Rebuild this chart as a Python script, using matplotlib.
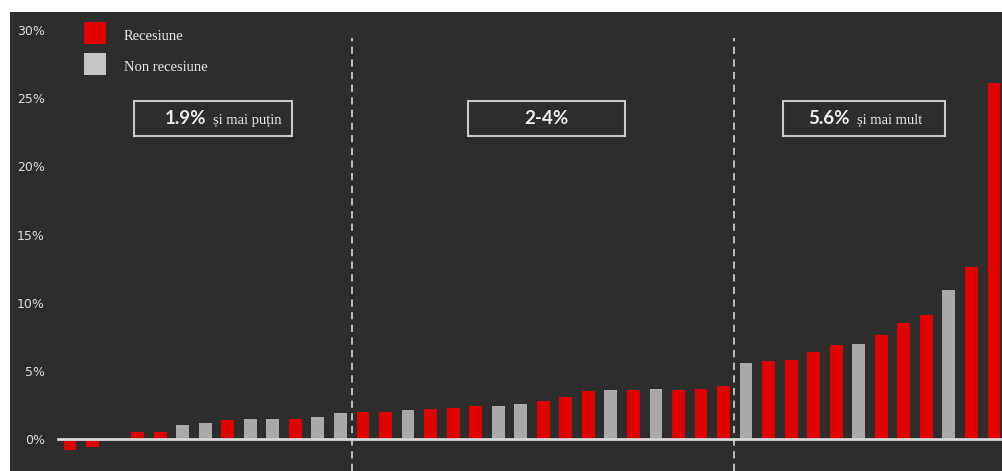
import matplotlib
matplotlib.use("Agg")
import matplotlib.pyplot as plt
from matplotlib.patches import Rectangle

# ---- data ----
values = [-0.8, -0.6, 0.0, 0.5, 0.5, 1.0, 1.2, 1.4, 1.5, 1.5, 1.5, 1.6, 1.9,
          2.0, 2.0, 2.1, 2.2, 2.3, 2.4, 2.4, 2.6, 2.8, 3.1, 3.5, 3.6, 3.6, 3.7,
          3.6, 3.7, 3.9,
          5.6, 5.7, 5.8, 6.4, 6.9, 7.0, 7.6, 8.5, 9.1, 10.9, 12.6, 26.1]
recession = ["R", "R", "R", "R", "R", "G", "G", "R", "G", "G", "R", "G", "G",
             "R", "R", "G", "R", "R", "R", "G", "G", "R", "R", "R", "G", "R", "G",
             "R", "R", "R",
             "G", "R", "R", "R", "R", "G", "R", "R", "R", "G", "R", "R"]
ytick_vals = [0, 5, 10, 15, 20, 25, 30]
ytick_labels = ["0%", "5%", "10%", "15%", "20%", "25%", "30%"]
legend_labels = ["Recesiune", "Non recesiune"]
box_bold = ["1.9%", "2-4%", "5.6%"]
box_rest = ["și mai puțin", "", "și mai mult"]

RED = "#e10000"
GRAY = "#a9a9a9"
BG = "#2d2d2d"
TXT = "#dcdcdc"

W, H = 1003, 471
fig = plt.figure(figsize=(W / 100, H / 100), dpi=100, facecolor="white")
ax = fig.add_axes([10 / W, 0, (W - 10) / W, (H - 12) / H])
ax.set_facecolor(BG)
for s in ax.spines.values():
    s.set_visible(False)

def px(xp, yp):
    """image pixel -> axes fraction"""
    return (xp - 10) / (W - 10), (H - yp) / (H - 12)

x = list(range(len(values)))
colors = [RED if c == "R" else GRAY for c in recession]
ax.bar(x, values, width=0.57, color=colors, zorder=2)

ax.set_xlim(-2.66, 41.4)
ax.set_ylim(-2.35, 31.33)
ax.set_xticks([])
ax.set_yticks(ytick_vals)
ax.set_yticklabels(ytick_labels)
ax.tick_params(axis="y", length=0, pad=-25, labelcolor=TXT, labelsize=9)

# zero line
ax.axhline(0, xmin=px(58, 0)[0], xmax=1, color="#d8d8d8", lw=2, zorder=3)

# dashed separators
ytop = px(0, 38)[1]
for xv in [12.5, 29.45]:
    ax.axvline(xv, ymin=0, ymax=ytop, color="#c8c8c8", lw=1.3,
               linestyle=(0, (4, 3)), zorder=1)

# legend
for i, (lab, col) in enumerate(zip(legend_labels, [RED, "#c4c4c4"])):
    y0 = 44 + 30.5 * i
    x0, yb = px(84, y0)
    w = 22 / (W - 10)
    h = 22 / (H - 12)
    ax.add_patch(Rectangle((x0, yb), w, h, transform=ax.transAxes,
                           facecolor=col, edgecolor="none", zorder=4))
    tx, ty = px(124, y0 - 7)
    ax.text(tx, ty, lab, transform=ax.transAxes, ha="left", va="center",
            fontsize=10.5, family="Liberation Serif", color="#e8e8e8")

# boxes
boxes = [(134, 292), (468, 625), (783, 945)]
split_x = [206, None, 850]
for (bx0, bx1), bold, rest, sx in zip(boxes, box_bold, box_rest, split_x):
    x0, y0 = px(bx0, 136)
    x1, y1 = px(bx1, 101)
    ax.add_patch(Rectangle((x0, y0), x1 - x0, y1 - y0, transform=ax.transAxes,
                           facecolor="none", edgecolor="#c8c8c8", lw=1.5,
                           zorder=4))
    _, yc = px(0, 119)
    if rest:
        ax.text(px(sx, 0)[0], yc, bold, transform=ax.transAxes, ha="right",
                va="center", fontsize=13.5, fontweight="bold", family="Lato",
                color="#f0f0f0")
        ax.text(px(sx + 7, 0)[0], yc - 0.002, rest, transform=ax.transAxes,
                ha="left", va="center", fontsize=10.5,
                family="Liberation Serif", color="#e8e8e8")
    else:
        ax.text((x0 + x1) / 2, yc, bold, transform=ax.transAxes, ha="center",
                va="center", fontsize=13.5, fontweight="bold", family="Lato",
                color="#f0f0f0")

fig.savefig("out.png", dpi=100, facecolor="white")
